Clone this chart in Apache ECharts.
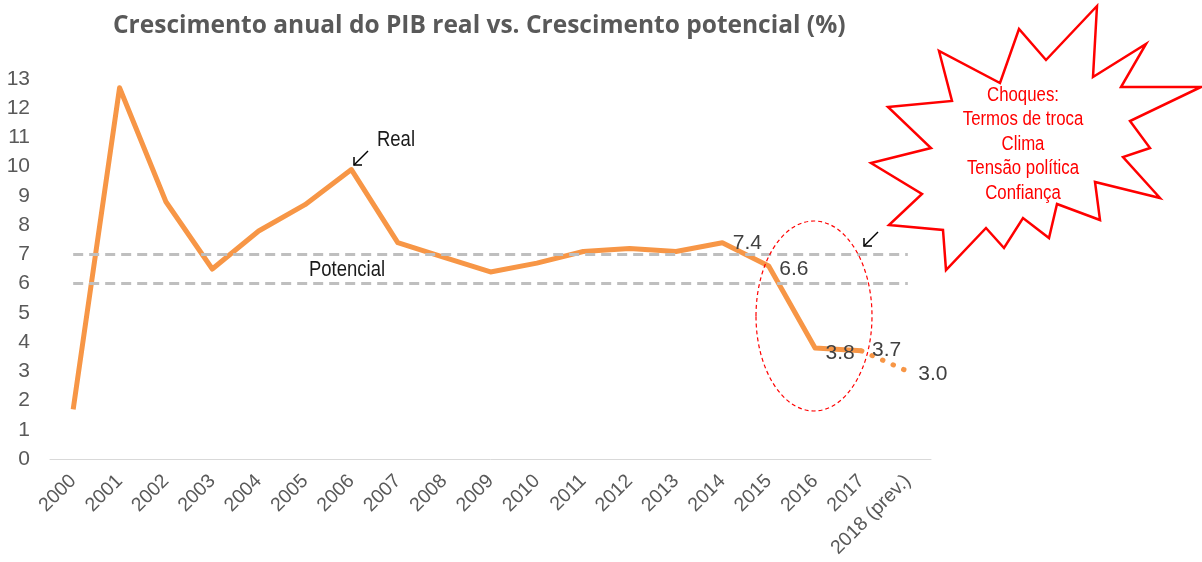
<!DOCTYPE html>
<html>
<head>
<meta charset="utf-8">
<script src="https://cdn.jsdelivr.net/npm/echarts@6/dist/echarts.min.js"></script>
<style>
  html, body { margin: 0; padding: 0; background: #fff; }
  #chart { width: 1202px; height: 562px; }
</style>
</head>
<body>
<div id="chart"></div>
<script>
// dados
var anos = ['2000', '2001', '2002', '2003', '2004', '2005', '2006', '2007', '2008', '2009',
  '2010', '2011', '2012', '2013', '2014', '2015', '2016', '2017', '2018 (prev.)'];
var pibReal = [1.7, 12.7, 8.8, 6.5, 7.8, 8.7, 9.9, 7.4, 6.9, 6.4, 6.7, 7.1, 7.2, 7.1, 7.4, 6.6, 3.8, 3.7, null];
var pibPrevisao = [null, null, null, null, null, null, null, null, null, null,
  null, null, null, null, null, null, null, 3.7, 3.0];
var potencial = [6, 7];
var anosComRotulo = ['2014', '2015', '2016', '2017'];
var choques = ['Choques:', 'Termos de troca', 'Clima', 'Tensão política', 'Confiança'];

var fonte = "'Liberation Sans', Arial, sans-serif";
var estreito = 0.84; // simula Arial Narrow

// deslocamento vertical dos rotulos (px)
var ajusteRotulo = { '2014': 1, '2015': 3, '2016': 5, '2017': -1, '2018 (prev.)': 3 };

var realData = pibReal.map(function (v, i) {
  if (anosComRotulo.indexOf(anos[i]) >= 0) {
    return { value: v, label: { show: true, offset: [0, ajusteRotulo[anos[i]]] } };
  }
  return v;
});
var previsaoData = pibPrevisao.map(function (v, i) {
  if (i === anos.length - 1) return { value: v, label: { show: true, offset: [0, ajusteRotulo[anos[i]]] } };
  return v;
});

var potencialLinhas = potencial.map(function (p) {
  return [{ coord: [anos[0], p] }, { coord: [anos[anos.length - 1], p] }];
});

var estrela = [
  [1097, 6], [1093, 77], [1146, 44], [1121, 87], [1201, 87], [1130, 121], [1150, 148],
  [1123, 157], [1160, 198], [1095, 182], [1100, 220], [1057, 204], [1049, 238],
  [1023, 218], [1004, 248], [986, 228], [946, 270], [943, 230], [889, 225],
  [922, 194], [871, 163], [931, 148], [888, 107], [952, 101], [939, 51],
  [1000, 83], [1019, 29], [1046, 60]
];

var rotulo = {
  show: false, position: 'right', distance: 10,
  fontFamily: fonte, fontSize: 21, color: '#404040',
  formatter: function (p) { return p.value.toFixed(1); }
};

var chart = echarts.init(document.getElementById('chart'));
var option = {
  animation: false,
  backgroundColor: '#fff',
  title: {
    text: 'Crescimento anual do PIB real vs. Crescimento potencial (%)',
    left: 108,
    top: 9,
    textStyle: { fontFamily: "'Open Sans', sans-serif", fontWeight: 'bold', fontSize: 24.5, color: '#595959' }
  },
  grid: { left: 50, right: 271, top: 79, bottom: 103 },
  xAxis: {
    type: 'category',
    data: anos,
    boundaryGap: true,
    axisLine: { lineStyle: { color: '#D9D9D9', width: 1 } },
    axisTick: { show: false },
    axisLabel: {
      rotate: 45, interval: 0, margin: 19,
      fontFamily: fonte, fontSize: 19.5, color: '#595959'
    }
  },
  yAxis: {
    type: 'value',
    min: 0, max: 13, interval: 1,
    axisLine: { show: false },
    axisTick: { show: false },
    splitLine: { show: false },
    axisLabel: { margin: 20, fontFamily: fonte, fontSize: 21, color: '#595959' }
  },
  series: [
    {
      name: 'Real',
      type: 'line',
      data: realData,
      symbol: 'circle',
      symbolSize: 1,
      showAllSymbol: true,
      itemStyle: { color: 'rgba(0,0,0,0)' },
      lineStyle: { color: '#F79646', width: 5, join: 'round' },
      label: rotulo,
      z: 2
    },
    {
      name: 'Previsão',
      type: 'line',
      data: previsaoData,
      symbol: 'circle',
      symbolSize: 1,
      showAllSymbol: true,
      itemStyle: { color: 'rgba(0,0,0,0)' },
      lineStyle: { color: '#F79646', width: 5, type: [0.5, 11], cap: 'round' },
      label: rotulo,
      z: 2
    },
    {
      name: 'Potencial',
      type: 'line',
      data: [],
      z: 3,
      markLine: {
        silent: true,
        symbol: 'none',
        label: { show: false },
        lineStyle: { color: '#BFBFBF', width: 3, type: [10, 6] },
        data: potencialLinhas
      }
    }
  ],
  graphic: [
    {
      type: 'polygon',
      shape: { points: estrela },
      style: { fill: '#fff', stroke: '#FF0000', lineWidth: 2.5 },
      z: 10
    },
    {
      type: 'text',
      x: 1023, y: 144, scaleX: estreito,
      style: {
        text: choques.join('\n'),
        align: 'center', verticalAlign: 'middle',
        lineHeight: 24.5,
        font: '20px ' + fonte,
        fill: '#FF0000'
      },
      z: 11
    },
    {
      type: 'ellipse',
      shape: { cx: 814, cy: 316, rx: 58, ry: 95 },
      style: { fill: 'none', stroke: '#FF0000', lineWidth: 1.2, lineDash: [4, 3] },
      z: 10
    },
    {
      type: 'text', x: 396, y: 140, scaleX: estreito,
      style: { text: 'Real', align: 'center', verticalAlign: 'middle', font: '22px ' + fonte, fill: '#1a1a1a' },
      z: 10
    },
    {
      type: 'text', x: 347, y: 270, scaleX: estreito,
      style: { text: 'Potencial', align: 'center', verticalAlign: 'middle', font: '22px ' + fonte, fill: '#1a1a1a' },
      z: 10
    },
    // setas
    {
      type: 'polyline', shape: { points: [[368, 151], [354, 165]] },
      style: { stroke: '#000', lineWidth: 1.5, fill: 'none' }, z: 10
    },
    {
      type: 'polyline', shape: { points: [[354, 157], [354, 165], [362, 165]] },
      style: { stroke: '#000', lineWidth: 1.5, fill: 'none' }, z: 10
    },
    {
      type: 'polyline', shape: { points: [[878, 232], [864, 246]] },
      style: { stroke: '#000', lineWidth: 1.5, fill: 'none' }, z: 10
    },
    {
      type: 'polyline', shape: { points: [[864, 238], [864, 246], [872, 246]] },
      style: { stroke: '#000', lineWidth: 1.5, fill: 'none' }, z: 10
    }
  ]
};
chart.setOption(option);
</script>
</body>
</html>
